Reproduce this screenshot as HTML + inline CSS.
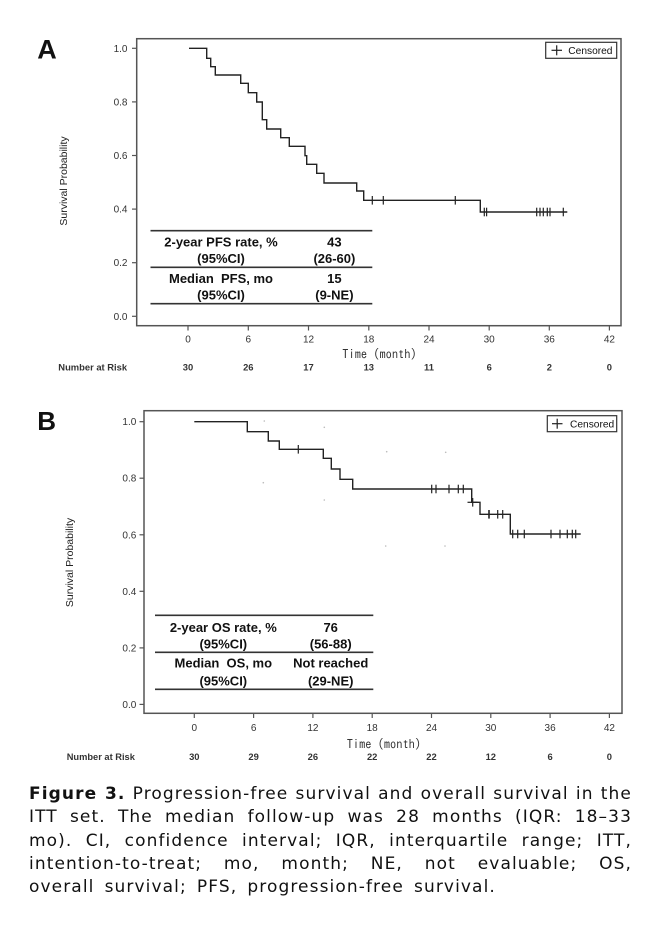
<!DOCTYPE html>
<html>
<head>
<meta charset="utf-8">
<style>
  html, body { margin:0; padding:0; background:#fff; }
  body { width:650px; height:934px; position:relative; overflow:hidden; }
  svg { position:absolute; left:0; top:0; }
  .cap { position:absolute; left:29px; top:783px; width:603px;
         font-family:"DejaVu Sans", "Liberation Sans", sans-serif; font-size:17px;
         line-height:23.3px; letter-spacing:1.1px; color:#111; }
  .cap div { text-align:justify; text-align-last:justify; height:23.3px; overflow:visible; }
  .cap div.first { white-space:nowrap; }
  .cap div.last { text-align:left; text-align-last:left; word-spacing:3.6px; }
</style>
</head>
<body>
<svg width="650" height="934" viewBox="0 0 650 934" xmlns="http://www.w3.org/2000/svg" font-family="Liberation Sans, Arial, sans-serif">
  <!-- ================= PANEL A ================= -->
  <text x="37.3" y="58.3" font-size="27" font-weight="bold" fill="#111">A</text>
  <text transform="translate(67,181) rotate(-90)" text-anchor="middle" font-size="10.5" fill="#222">Survival Probability</text>

  <rect x="136.7" y="38.7" width="484.3" height="287" fill="none" stroke="#555" stroke-width="1.5"/>
  <g stroke="#555" stroke-width="1.2">
    <line x1="132" y1="48.3" x2="136.7" y2="48.3"/>
    <line x1="132" y1="101.9" x2="136.7" y2="101.9"/>
    <line x1="132" y1="155.5" x2="136.7" y2="155.5"/>
    <line x1="132" y1="209.1" x2="136.7" y2="209.1"/>
    <line x1="132" y1="262.7" x2="136.7" y2="262.7"/>
    <line x1="132" y1="316.3" x2="136.7" y2="316.3"/>
  </g>
  <g font-size="10" fill="#333" text-anchor="end">
    <text x="127.5" y="51.8">1.0</text>
    <text x="127.5" y="105.4">0.8</text>
    <text x="127.5" y="159">0.6</text>
    <text x="127.5" y="212.6">0.4</text>
    <text x="127.5" y="266.2">0.2</text>
    <text x="127.5" y="319.8">0.0</text>
  </g>
  <g stroke="#555" stroke-width="1.2">
    <line x1="188" y1="325.7" x2="188" y2="330.5"/>
    <line x1="248.3" y1="325.7" x2="248.3" y2="330.5"/>
    <line x1="308.5" y1="325.7" x2="308.5" y2="330.5"/>
    <line x1="368.8" y1="325.7" x2="368.8" y2="330.5"/>
    <line x1="429" y1="325.7" x2="429" y2="330.5"/>
    <line x1="489.2" y1="325.7" x2="489.2" y2="330.5"/>
    <line x1="549.3" y1="325.7" x2="549.3" y2="330.5"/>
    <line x1="609.4" y1="325.7" x2="609.4" y2="330.5"/>
  </g>
  <g font-size="10" fill="#333" text-anchor="middle">
    <text x="188" y="342.5">0</text>
    <text x="248.3" y="342.5">6</text>
    <text x="308.5" y="342.5">12</text>
    <text x="368.8" y="342.5">18</text>
    <text x="429" y="342.5">24</text>
    <text x="489.2" y="342.5">30</text>
    <text x="549.3" y="342.5">36</text>
    <text x="609.4" y="342.5">42</text>
  </g>
  <text x="342.3" y="358.6" font-size="12.4" fill="#333" font-family="IPAGothic, Liberation Mono, monospace">Time (month)</text>
  <text x="58.3" y="370.3" font-size="9.4" font-weight="bold" fill="#333">Number at Risk</text>
  <g font-size="9.4" font-weight="bold" fill="#333" text-anchor="middle">
    <text x="188" y="370.3">30</text>
    <text x="248.3" y="370.3">26</text>
    <text x="308.5" y="370.3">17</text>
    <text x="368.8" y="370.3">13</text>
    <text x="429" y="370.3">11</text>
    <text x="489.2" y="370.3">6</text>
    <text x="549.3" y="370.3">2</text>
    <text x="609.4" y="370.3">0</text>
  </g>

  <rect x="545.7" y="42.3" width="71" height="16" fill="#fff" stroke="#333" stroke-width="1.2"/>
  <g stroke="#222" stroke-width="1.2">
    <line x1="551.5" y1="50.3" x2="562" y2="50.3"/>
    <line x1="556.7" y1="45.3" x2="556.7" y2="55.3"/>
  </g>
  <text x="568.3" y="54" font-size="10.2" fill="#111">Censored</text>

  <path d="M189,48.3 H206.7 V58.3 H210.7 V66.7 H215.3 V75 H240.7 V83.3 H248.3 V92.7 H256.7 V102 H262.3 V119.7 H266.7 V129 H280.7 V137.7 H289.3 V146.3 H305 V155.7 H306.7 V164.3 H316.7 V173.3 H324 V183 H356.7 V191 H363.7 V200.3 H480.3 V212 H567.3"
        fill="none" stroke="#222" stroke-width="1.4"/>
  <g stroke="#222" stroke-width="1.2">
    <line x1="372.3" y1="196" x2="372.3" y2="204.6"/>
    <line x1="383.3" y1="196" x2="383.3" y2="204.6"/>
    <line x1="455.3" y1="196" x2="455.3" y2="204.6"/>
    <line x1="484.3" y1="207.7" x2="484.3" y2="216.3"/>
    <line x1="486.6" y1="207.7" x2="486.6" y2="216.3"/>
    <line x1="536.7" y1="207.7" x2="536.7" y2="216.3"/>
    <line x1="540" y1="207.7" x2="540" y2="216.3"/>
    <line x1="543.3" y1="207.7" x2="543.3" y2="216.3"/>
    <line x1="547.3" y1="207.7" x2="547.3" y2="216.3"/>
    <line x1="550" y1="207.7" x2="550" y2="216.3"/>
    <line x1="563.3" y1="207.7" x2="563.3" y2="216.3"/>
  </g>

  <g stroke="#333" stroke-width="1.6">
    <line x1="150.5" y1="230.7" x2="372.3" y2="230.7"/>
    <line x1="150.5" y1="267.3" x2="372.3" y2="267.3"/>
    <line x1="150.5" y1="303.7" x2="372.3" y2="303.7"/>
  </g>
  <g font-size="13" font-weight="bold" fill="#111" text-anchor="middle">
    <text x="221" y="246.3">2-year PFS rate, %</text>
    <text x="221" y="262.9">(95%CI)</text>
    <text x="221" y="282.9">Median&#160;&#160;PFS, mo</text>
    <text x="221" y="299.6">(95%CI)</text>
    <text x="334.4" y="246.3">43</text>
    <text x="334.4" y="262.9">(26-60)</text>
    <text x="334.4" y="282.9">15</text>
    <text x="334.4" y="299.6">(9-NE)</text>
  </g>

  <!-- ================= PANEL B ================= -->
  <text x="37.3" y="430" font-size="26" font-weight="bold" fill="#111">B</text>
  <text transform="translate(73,562.5) rotate(-90)" text-anchor="middle" font-size="10.5" fill="#222">Survival Probability</text>

  <rect x="144" y="410.7" width="478" height="302.6" fill="none" stroke="#555" stroke-width="1.5"/>
  <g stroke="#555" stroke-width="1.2">
    <line x1="139.5" y1="421.7" x2="144" y2="421.7"/>
    <line x1="139.5" y1="478.2" x2="144" y2="478.2"/>
    <line x1="139.5" y1="534.8" x2="144" y2="534.8"/>
    <line x1="139.5" y1="591.3" x2="144" y2="591.3"/>
    <line x1="139.5" y1="647.9" x2="144" y2="647.9"/>
    <line x1="139.5" y1="704.4" x2="144" y2="704.4"/>
  </g>
  <g font-size="10" fill="#333" text-anchor="end">
    <text x="136.3" y="425.2">1.0</text>
    <text x="136.3" y="481.7">0.8</text>
    <text x="136.3" y="538.3">0.6</text>
    <text x="136.3" y="594.8">0.4</text>
    <text x="136.3" y="651.4">0.2</text>
    <text x="136.3" y="707.9">0.0</text>
  </g>
  <g stroke="#555" stroke-width="1.2">
    <line x1="194.3" y1="713.3" x2="194.3" y2="718"/>
    <line x1="253.6" y1="713.3" x2="253.6" y2="718"/>
    <line x1="312.9" y1="713.3" x2="312.9" y2="718"/>
    <line x1="372.2" y1="713.3" x2="372.2" y2="718"/>
    <line x1="431.5" y1="713.3" x2="431.5" y2="718"/>
    <line x1="490.8" y1="713.3" x2="490.8" y2="718"/>
    <line x1="550.1" y1="713.3" x2="550.1" y2="718"/>
    <line x1="609.4" y1="713.3" x2="609.4" y2="718"/>
  </g>
  <g font-size="10" fill="#333" text-anchor="middle">
    <text x="194.3" y="731">0</text>
    <text x="253.6" y="731">6</text>
    <text x="312.9" y="731">12</text>
    <text x="372.2" y="731">18</text>
    <text x="431.5" y="731">24</text>
    <text x="490.8" y="731">30</text>
    <text x="550.1" y="731">36</text>
    <text x="609.4" y="731">42</text>
  </g>
  <text x="346.7" y="748.3" font-size="12.4" fill="#333" font-family="IPAGothic, Liberation Mono, monospace">Time (month)</text>
  <text x="66.7" y="760" font-size="9.3" font-weight="bold" fill="#333">Number at Risk</text>
  <g font-size="9.4" font-weight="bold" fill="#333" text-anchor="middle">
    <text x="194.3" y="760">30</text>
    <text x="253.6" y="760">29</text>
    <text x="312.9" y="760">26</text>
    <text x="372.2" y="760">22</text>
    <text x="431.5" y="760">22</text>
    <text x="490.8" y="760">12</text>
    <text x="550.1" y="760">6</text>
    <text x="609.4" y="760">0</text>
  </g>

  <rect x="547.3" y="415.7" width="69.4" height="16" fill="#fff" stroke="#333" stroke-width="1.2"/>
  <g stroke="#222" stroke-width="1.2">
    <line x1="552" y1="423.7" x2="562.5" y2="423.7"/>
    <line x1="557.2" y1="418.7" x2="557.2" y2="428.7"/>
  </g>
  <text x="570" y="427.4" font-size="10.2" fill="#111">Censored</text>

  <g fill="#bbb">
    <circle cx="264.3" cy="421" r="0.8"/>
    <circle cx="263.3" cy="482.7" r="0.8"/>
    <circle cx="324.3" cy="427.3" r="0.8"/>
    <circle cx="324.3" cy="500" r="0.8"/>
    <circle cx="386.7" cy="451.7" r="0.8"/>
    <circle cx="445.7" cy="452.3" r="0.8"/>
    <circle cx="385.7" cy="546" r="0.8"/>
    <circle cx="445" cy="546" r="0.8"/>
  </g>

  <path d="M194.3,421.7 H247.3 V431.7 H268.3 V441 H279.3 V449.3 H323.3 V458.3 H331.3 V469 H340 V479.3 H352.7 V489 H471.7 V502.3 H480 V514.3 H510.3 V534 H580.7"
        fill="none" stroke="#222" stroke-width="1.4"/>
  <g stroke="#222" stroke-width="1.2">
    <line x1="298.3" y1="445" x2="298.3" y2="453.6"/>
    <line x1="431.7" y1="484.7" x2="431.7" y2="493.3"/>
    <line x1="436" y1="484.7" x2="436" y2="493.3"/>
    <line x1="449" y1="484.7" x2="449" y2="493.3"/>
    <line x1="458.3" y1="484.7" x2="458.3" y2="493.3"/>
    <line x1="463.3" y1="484.7" x2="463.3" y2="493.3"/>
    <line x1="472.7" y1="498" x2="472.7" y2="506.6"/>
    <line x1="467.5" y1="502.3" x2="477.5" y2="502.3"/>
    <line x1="489" y1="510" x2="489" y2="518.6" stroke-width="1.6"/>
    <line x1="497.7" y1="510" x2="497.7" y2="518.6"/>
    <line x1="502.7" y1="510" x2="502.7" y2="518.6"/>
    <line x1="512.7" y1="529.7" x2="512.7" y2="538.3"/>
    <line x1="517.7" y1="529.7" x2="517.7" y2="538.3"/>
    <line x1="524.3" y1="529.7" x2="524.3" y2="538.3"/>
    <line x1="551" y1="529.7" x2="551" y2="538.3"/>
    <line x1="560" y1="529.7" x2="560" y2="538.3"/>
    <line x1="567.3" y1="529.7" x2="567.3" y2="538.3"/>
    <line x1="572.3" y1="529.7" x2="572.3" y2="538.3"/>
    <line x1="575.7" y1="529.7" x2="575.7" y2="538.3"/>
  </g>

  <g stroke="#333" stroke-width="1.6">
    <line x1="155" y1="615.3" x2="373.3" y2="615.3"/>
    <line x1="155" y1="652.3" x2="373.3" y2="652.3"/>
    <line x1="155" y1="689.3" x2="373.3" y2="689.3"/>
  </g>
  <g font-size="13" font-weight="bold" fill="#111" text-anchor="middle">
    <text x="223.3" y="632">2-year OS rate, %</text>
    <text x="223.3" y="648.6">(95%CI)</text>
    <text x="223.3" y="667.3">Median&#160;&#160;OS, mo</text>
    <text x="223.3" y="685.3">(95%CI)</text>
    <text x="330.7" y="632">76</text>
    <text x="330.7" y="648.6">(56-88)</text>
    <text x="330.7" y="667.3">Not reached</text>
    <text x="330.7" y="685.3">(29-NE)</text>
  </g>
</svg>

<div class="cap">
  <div class="first"><b>Figure 3.</b> Progression-free survival and overall survival in the</div>
  <div>ITT set. The median follow-up was 28 months (IQR: 18–33</div>
  <div>mo). CI, confidence interval; IQR, interquartile range; ITT,</div>
  <div>intention-to-treat; mo, month; NE, not evaluable; OS,</div>
  <div class="last">overall survival; PFS, progression-free survival.</div>
</div>
</body>
</html>
